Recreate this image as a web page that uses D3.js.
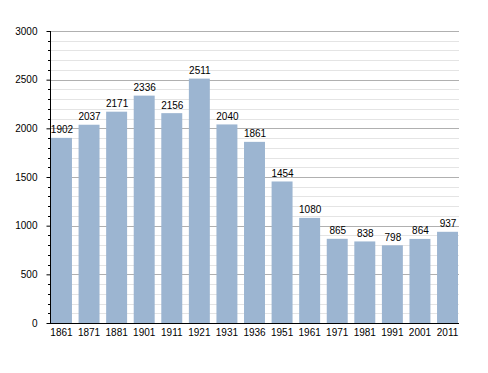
<!DOCTYPE html>
<html><head><meta charset="utf-8">
<script src="https://cdn.jsdelivr.net/npm/d3@7"></script>
<style>body{margin:0;background:#fff}svg{display:block}text{font-family:"Liberation Sans",Arial,sans-serif;font-size:10px;fill:#000}</style>
</head><body><svg id="c" width="488" height="373"></svg>
<script>
const years = ["1861","1871","1881","1901","1911","1921","1931","1936","1951","1961","1971","1981","1991","2001","2011"];
const population = [1902,2037,2171,2336,2156,2511,2040,1861,1454,1080,865,838,798,864,937];
const yMajorTicks = [0,500,1000,1500,2000,2500,3000];

const svg = d3.select("#c");
const pLeft = 50, pRight = 459, pTop = 31, pBottom = 323;
const y = d3.scaleLinear().domain([0,3000]).range([pBottom, pTop]);
const x = d3.scaleBand().domain(years).range([51, 458]).paddingInner(0.24).paddingOuter(0);
const fontFam = '"Liberation Sans",Arial,sans-serif';

const minor = d3.range(0, 3001, 100).filter(v => v % 500 !== 0);
svg.append("g").selectAll("line").data(minor).join("line")
  .attr("x1", pLeft).attr("x2", pRight)
  .attr("y1", d => Math.round(y(d)) + 0.5).attr("y2", d => Math.round(y(d)) + 0.5)
  .attr("stroke", "#e4e4e4");
svg.append("g").selectAll("line").data(yMajorTicks.filter(d => d > 0)).join("line")
  .attr("x1", pLeft).attr("x2", pRight)
  .attr("y1", d => Math.round(y(d)) + 0.5).attr("y2", d => Math.round(y(d)) + 0.5)
  .attr("stroke", "#b0b0b0");

svg.append("g").selectAll("rect").data(population).join("rect")
  .attr("x", (d,i) => x(years[i]))
  .attr("width", x.bandwidth())
  .attr("y", d => y(d))
  .attr("height", d => pBottom - y(d))
  .attr("fill", "#9cb5d1");

svg.append("g").selectAll("text").data(population).join("text")
  .attr("x", (d,i) => x(years[i]) + x.bandwidth()/2 + 0.5)
  .attr("y", d => y(d) - 4.5)
  .attr("text-anchor", "middle")
  .text(d => d);

// y axis
const yAxis = d3.axisLeft(y).tickValues(yMajorTicks).tickSize(4).tickPadding(9).tickFormat(d3.format("d"));
const gy = svg.append("g").attr("transform", `translate(${pLeft + 0.5},0)`).call(yAxis);
gy.select(".domain").attr("stroke", "#000").attr("d", `M0,${pTop}V${pBottom}`);
gy.selectAll(".tick line").attr("stroke", "#000");
gy.selectAll(".tick text").style("font-size", "10px").style("font-family", fontFam).attr("fill", "#000");
svg.append("g").selectAll("line").data(minor).join("line")
  .attr("x1", pLeft - 2).attr("x2", pLeft)
  .attr("y1", d => Math.round(y(d)) + 0.5).attr("y2", d => Math.round(y(d)) + 0.5)
  .attr("stroke", "#000");

// x axis
const xAxis = d3.axisBottom(x).tickSize(0).tickPadding(5);
const gx = svg.append("g").attr("transform", `translate(0,${pBottom + 0.5})`).call(xAxis);
gx.select(".domain").attr("stroke", "#000").attr("d", `M${pLeft},0H${pRight}`);
gx.selectAll(".tick text").style("font-size", "10px").style("font-family", fontFam).attr("fill", "#000");
</script></body></html>
